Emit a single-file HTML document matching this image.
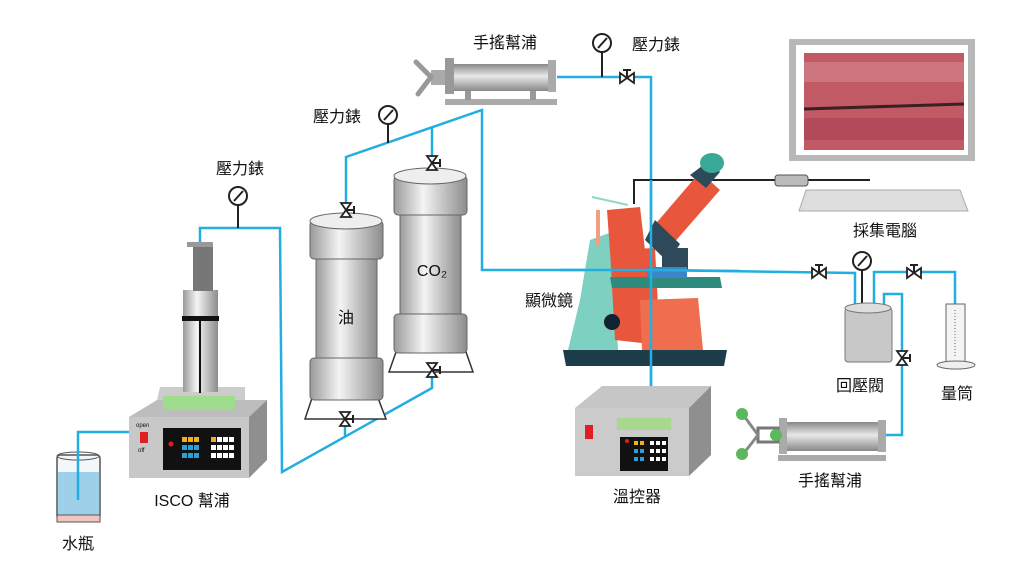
<!DOCTYPE html>
<html><head><meta charset="utf-8"><style>
html,body{margin:0;padding:0;background:#fff;width:1024px;height:576px;overflow:hidden}
text{font-family:"Liberation Sans","Noto Sans CJK TC",sans-serif;fill:#111}
</style></head><body>
<svg width="1024" height="576" viewBox="0 0 1024 576" xmlns="http://www.w3.org/2000/svg">
<defs>
<linearGradient id="cyl" x1="0" x2="1"><stop offset="0" stop-color="#9a9a9a"/><stop offset="0.4" stop-color="#f4f4f4"/><stop offset="1" stop-color="#8c8c8c"/></linearGradient>
<linearGradient id="tube" x1="0" y1="0" x2="0" y2="1"><stop offset="0" stop-color="#888"/><stop offset="0.45" stop-color="#e8e8e8"/><stop offset="1" stop-color="#888"/></linearGradient>
<g id="gauge"><circle r="9" fill="#fff" stroke="#222" stroke-width="2"/><line x1="-4" y1="5" x2="5" y2="-5" stroke="#222" stroke-width="2"/></g>
<g id="valve"><path d="M-7,-5 L7,5 L7,-5 L-7,5Z" fill="#fff" stroke="#222" stroke-width="1.8"/><line x1="0" y1="0" x2="0" y2="-8" stroke="#222" stroke-width="2"/><line x1="-4" y1="-8" x2="4" y2="-8" stroke="#222" stroke-width="2"/></g>
<g id="vvalve"><path d="M-5,-7 L5,7 L-5,7 L5,-7Z" fill="#fff" stroke="#222" stroke-width="1.8"/><line x1="0" y1="0" x2="8" y2="0" stroke="#222" stroke-width="2"/><line x1="8" y1="-4" x2="8" y2="4" stroke="#222" stroke-width="2"/></g>
</defs>

<!-- water bottle -->
<rect x="57" y="455" width="43" height="64" rx="3" fill="#f4f7fa" stroke="#555" stroke-width="1.5"/>
<rect x="58" y="472" width="41" height="45" fill="#9fd0ea"/>
<rect x="57" y="515" width="43" height="7" fill="#f3c6bd" stroke="#555"/>
<ellipse cx="78" cy="456" rx="21" ry="4" fill="none" stroke="#555"/>
<!-- ISCO pump -->
<polygon points="129,417 157,400 267,400 249,417" fill="#bdbdbd"/>
<polygon points="249,417 267,400 267,460 249,478" fill="#8f8f8f"/>
<rect x="129" y="417" width="120" height="61" fill="#c8c8c8"/>
<polygon points="157,400 160,387 245,387 245,400" fill="#ccc"/>
<rect x="163" y="396" width="72" height="13" fill="#9fdc8c"/>
<rect x="163" y="428" width="78" height="42" fill="#111"/>
<rect x="140" y="432" width="8" height="11" fill="#e02020"/>
<text x="136" y="427" font-size="6" fill="#555">open</text><text x="138" y="452" font-size="6" fill="#555">off</text>
<g fill="#f0b020"><rect x="182" y="437" width="5" height="5"/><rect x="188" y="437" width="5" height="5"/><rect x="194" y="437" width="5" height="5"/><rect x="211" y="437" width="5" height="5"/></g>
<g fill="#2aa0d8"><rect x="182" y="445" width="5" height="5"/><rect x="188" y="445" width="5" height="5"/><rect x="194" y="445" width="5" height="5"/><rect x="182" y="453" width="5" height="5"/><rect x="188" y="453" width="5" height="5"/><rect x="194" y="453" width="5" height="5"/></g>
<g fill="#fff"><rect x="217" y="437" width="5" height="5"/><rect x="223" y="437" width="5" height="5"/><rect x="229" y="437" width="5" height="5"/><rect x="211" y="445" width="5" height="5"/><rect x="217" y="445" width="5" height="5"/><rect x="223" y="445" width="5" height="5"/><rect x="229" y="445" width="5" height="5"/><rect x="211" y="453" width="5" height="5"/><rect x="217" y="453" width="5" height="5"/><rect x="223" y="453" width="5" height="5"/><rect x="229" y="453" width="5" height="5"/></g>
<circle cx="171" cy="444" r="2.5" fill="#e02020"/>
<rect x="183" y="290" width="35" height="102" fill="url(#cyl)"/>
<rect x="182" y="316" width="37" height="5" fill="#111"/>
<line x1="200" y1="320" x2="200" y2="393" stroke="#111" stroke-width="2"/>
<rect x="193" y="246" width="20" height="45" fill="#777"/>
<rect x="187" y="242" width="26" height="5" fill="#999"/>

<!-- blue pipes -->
<g fill="none" stroke="#22aee0" stroke-width="2.5">
<polyline points="78,500 78,432 129,432"/>
<polyline points="200,242 200,228 280,228 282,472 432,388 432,372"/>
<polyline points="345,419 345,437"/>
<polyline points="346,210 346,157 482,110 482,270 651,270 855,273 855,305"/>
<polyline points="557,77 651,77 651,386"/>
<polyline points="432,163 432,128"/>
<polyline points="874,305 874,272 955,272 955,305"/>
<polyline points="884,305 884,294 902,294 902,435 885,435"/>
</g>
<g stroke="#222" stroke-width="2"><line x1="238" y1="205" x2="238" y2="228"/><line x1="388" y1="124" x2="388" y2="143"/><line x1="602" y1="52" x2="602" y2="77"/><line x1="862" y1="270" x2="862" y2="310"/></g>
<use href="#gauge" x="238" y="196"/><use href="#gauge" x="388" y="115"/><use href="#gauge" x="602" y="43"/><use href="#gauge" x="862" y="261"/>

<!-- oil cylinder -->
<polygon points="305,419 386,419 378,398 312,398" fill="#fff" stroke="#333" stroke-width="1.5"/>
<rect x="310" y="221" width="73" height="38" rx="4" fill="url(#cyl)" stroke="#666"/>
<ellipse cx="346" cy="221" rx="36" ry="8" fill="#eee" stroke="#666"/>
<rect x="316" y="259" width="61" height="100" fill="url(#cyl)" stroke="#666"/>
<rect x="310" y="358" width="73" height="42" rx="4" fill="url(#cyl)" stroke="#666"/>
<text x="346" y="323" font-size="16" text-anchor="middle">油</text>
<!-- CO2 cylinder -->
<polygon points="389,372 473,372 466,352 396,352" fill="#fff" stroke="#333" stroke-width="1.5"/>
<rect x="394" y="176" width="73" height="39" rx="4" fill="url(#cyl)" stroke="#666"/>
<ellipse cx="430" cy="176" rx="36" ry="8" fill="#eee" stroke="#666"/>
<rect x="400" y="215" width="61" height="100" fill="url(#cyl)" stroke="#666"/>
<rect x="394" y="314" width="73" height="39" rx="4" fill="url(#cyl)" stroke="#666"/>
<text x="432" y="276" font-size="16" text-anchor="middle">CO₂</text>
<use href="#vvalve" x="346" y="210"/><use href="#vvalve" x="432" y="163"/><use href="#vvalve" x="432" y="370"/><use href="#vvalve" x="345" y="419"/>

<!-- top hand pump -->
<rect x="445" y="99" width="112" height="6" fill="#aaa"/>
<rect x="465" y="90" width="6" height="10" fill="#999"/><rect x="530" y="90" width="6" height="10" fill="#999"/>
<rect x="452" y="64" width="98" height="27" fill="url(#tube)"/>
<rect x="445" y="58" width="9" height="36" fill="#999"/><rect x="548" y="60" width="8" height="32" fill="#aaa"/>
<rect x="431" y="70" width="14" height="15" fill="#aaa"/>
<g stroke="#999" stroke-width="5" stroke-linecap="round"><line x1="431" y1="77" x2="416" y2="62"/><line x1="431" y1="77" x2="418" y2="94"/></g>
<use href="#valve" x="627" y="78"/>

<!-- monitor -->
<rect x="789" y="39" width="186" height="122" fill="#b8b8b8"/>
<rect x="796" y="45" width="172" height="110" fill="#fff"/>
<rect x="804" y="53" width="160" height="97" fill="#c25a66"/>
<rect x="804" y="62" width="160" height="20" fill="#d2808a" opacity=".7"/>
<rect x="804" y="118" width="160" height="22" fill="#a84050" opacity=".6"/>
<line x1="804" y1="109" x2="964" y2="104" stroke="#3a2020" stroke-width="3"/>
<polygon points="799,211 968,211 960,190 806,190" fill="#ddd" stroke="#aaa"/>
<polyline points="634,204 634,180 870,180" fill="none" stroke="#222" stroke-width="2"/>
<rect x="775" y="175" width="33" height="11" rx="3" fill="#bbb" stroke="#555"/>

<!-- microscope -->
<polygon points="563,350 727,350 724,366 566,366" fill="#1e3d4a"/>
<polygon points="568,350 580,300 590,240 612,232 618,350" fill="#7ed0c0"/>
<rect x="596" y="210" width="4" height="35" fill="#f0a080"/>
<line x1="592" y1="197" x2="628" y2="205" stroke="#8fd8c8" stroke-width="2"/>
<polygon points="607,210 640,207 645,250 610,252" fill="#e8573c"/>
<polygon points="610,250 655,248 660,345 615,340" fill="#e8573c"/>
<circle cx="612" cy="322" r="8" fill="#123"/><circle cx="650" cy="337" r="8" fill="#123"/>
<polygon points="640,300 698,298 703,350 642,350" fill="#f06e50"/>
<polygon points="652,228 700,172 720,190 672,245" fill="#e8573c"/>
<polygon points="655,220 680,244 668,262 645,240" fill="#2e4a5a"/>
<polygon points="690,175 710,160 720,172 706,188" fill="#2e4a5a"/>
<ellipse cx="712" cy="163" rx="12" ry="10" fill="#3aa896"/>
<rect x="662" y="248" width="26" height="22" fill="#2e4a5a"/>
<polygon points="610,277 720,277 722,288 612,288" fill="#2e8a7c"/>
<rect x="647" y="267" width="40" height="11" fill="#3a86c8"/>
<g fill="none" stroke="#22aee0" stroke-width="2.5">
<line x1="651" y1="180" x2="651" y2="386"/>
<polyline points="560,270 651,270 740,271"/>
</g>

<!-- temp controller -->
<polygon points="575,408 602,386 711,386 689,408" fill="#c6c6c6"/>
<polygon points="689,408 711,386 711,455 689,476" fill="#8f8f8f"/>
<rect x="575" y="408" width="114" height="68" fill="#cbcbcb"/>
<rect x="617" y="418" width="54" height="12" fill="#a8d890"/>
<rect x="620" y="437" width="48" height="34" fill="#111"/>
<rect x="585" y="425" width="8" height="14" fill="#e02020"/>
<circle cx="627" cy="441" r="2" fill="#e02020"/>
<g fill="#f0b020"><rect x="634" y="441" width="4" height="4"/><rect x="640" y="441" width="4" height="4"/></g>
<g fill="#2aa0d8"><rect x="634" y="449" width="4" height="4"/><rect x="640" y="449" width="4" height="4"/><rect x="634" y="457" width="4" height="4"/><rect x="640" y="457" width="4" height="4"/></g>
<g fill="#fff"><rect x="650" y="441" width="4" height="4"/><rect x="656" y="441" width="4" height="4"/><rect x="662" y="441" width="4" height="4"/><rect x="650" y="449" width="4" height="4"/><rect x="656" y="449" width="4" height="4"/><rect x="662" y="449" width="4" height="4"/><rect x="650" y="457" width="4" height="4"/><rect x="656" y="457" width="4" height="4"/><rect x="662" y="457" width="4" height="4"/></g>

<!-- right side -->
<use href="#valve" x="819" y="273"/><use href="#valve" x="914" y="273"/><use href="#vvalve" x="902" y="358"/>
<rect x="845" y="308" width="47" height="54" rx="3" fill="#c8c8c8" stroke="#777"/>
<ellipse cx="868" cy="308" rx="23" ry="5" fill="#ddd" stroke="#777"/>
<rect x="946" y="304" width="19" height="58" fill="#f4f4f4" stroke="#666"/>
<line x1="955" y1="310" x2="955" y2="356" stroke="#666" stroke-dasharray="1,2"/>
<ellipse cx="956" cy="365" rx="19" ry="4" fill="#eee" stroke="#666"/>
<!-- lower hand pump -->
<rect x="778" y="455" width="108" height="6" fill="#aaa"/>
<rect x="783" y="422" width="98" height="29" fill="url(#tube)"/>
<rect x="779" y="418" width="8" height="36" fill="#aaa"/><rect x="878" y="420" width="8" height="32" fill="#aaa"/>
<rect x="758" y="428" width="20" height="14" fill="none" stroke="#777" stroke-width="3"/>
<g stroke="#888" stroke-width="3"><line x1="758" y1="435" x2="744" y2="416"/><line x1="758" y1="435" x2="744" y2="453"/></g>
<g fill="#5cb85c"><circle cx="742" cy="414" r="6"/><circle cx="742" cy="454" r="6"/><circle cx="776" cy="435" r="6"/></g>

<!-- labels -->
<g font-size="16" text-anchor="middle">
<text x="240" y="174">壓力錶</text>
<text x="337" y="122">壓力錶</text>
<text x="505" y="48">手搖幫浦</text>
<text x="656" y="50">壓力錶</text>
<text x="885" y="236">採集電腦</text>
<text x="549" y="306">顯微鏡</text>
<text x="192" y="506">ISCO 幫浦</text>
<text x="78" y="549">水瓶</text>
<text x="637" y="502">溫控器</text>
<text x="860" y="391">回壓閥</text>
<text x="957" y="399">量筒</text>
<text x="830" y="486">手搖幫浦</text>
</g>
</svg>
</body></html>
